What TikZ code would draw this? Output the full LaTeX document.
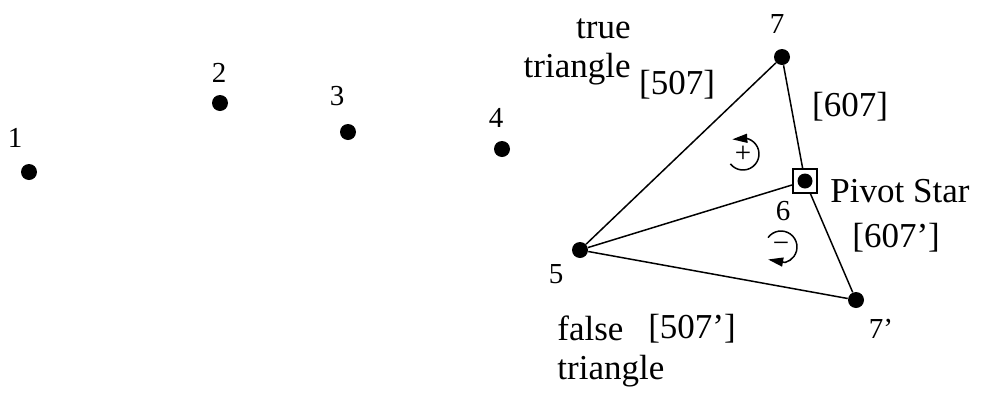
\documentclass[tikz,border=0pt]{standalone}
\usepackage{fontspec}
\setmainfont{Liberation Serif}
\usetikzlibrary{arrows.meta}

\begin{document}
\begin{tikzpicture}[
  x=0.5pt, y=-0.5pt,
  dot/.style={circle, fill=black, inner sep=0pt, minimum size=8pt},
  num/.style={font=\fontsize{14.5}{17}\selectfont, inner sep=0pt},
  lab/.style={font=\fontsize{17.5}{19.5}\selectfont, inner sep=0pt},
  edge/.style={line width=0.75pt},
  turn/.style={line width=0.75pt, -{Triangle[length=7.5pt,width=4.5pt]}}]
\useasboundingbox (0,0) rectangle (982,392);
\node[dot] (s1) at (29,172) {};
\node[dot] (s2) at (220,103) {};
\node[dot] (s3) at (348,132) {};
\node[dot] (s4) at (502,149) {};
\node[dot] (s5) at (580,250) {};
\node[dot] (s7) at (782,57) {};
\node[dot] (s7b) at (856,300) {};
\node[draw, line width=1pt, minimum size=12pt, inner sep=0pt] (pivot) at (805,181) {};
\node[dot, minimum size=7.5pt] (s6) at (805,181) {};
\node[num, anchor=base] (n1) at (15,147) {1};
\node[num, anchor=base] (n2) at (219,82) {2};
\node[num, anchor=base] (n3) at (337,105) {3};
\node[num, anchor=base] (n4) at (496,127) {4};
\node[num, anchor=base] (n5) at (556,283) {5};
\node[num, anchor=base] (n6) at (783,220) {6};
\node[num, anchor=base] (n7) at (777,33) {7};
\node[num, anchor=base] (n7b) at (881,338) {7’};
\draw[edge] (s5) -- (s7);
\draw[edge] (s7) -- (pivot);
\draw[edge] (s5) -- (pivot);
\draw[edge] (pivot) -- (s7b);
\draw[edge] (s5) -- (s7b);
\node[lab, anchor=base east, align=right] (truetri) at (631,77) {true\\triangle};
\node[lab, anchor=base west, align=left] (falsetri) at (557,379) {false\\triangle};
\node[lab, anchor=base] (e507) at (677,94) {[507]};
\node[lab, anchor=base] (e607) at (850,116) {[607]};
\node[lab, anchor=base west] (e607b) at (852,247) {[607’]};
\node[lab, anchor=base] (e507b) at (692,338) {[507’]};
\node[lab, anchor=base west] (star) at (830,202) {Pivot Star};
\node[num] (plus) at (743,154) {+};
\node[num] (minus) at (781,247) {−};
\draw[turn] ([shift={(142:16)}]plus.center) arc[start angle=142, end angle=-78, radius=16] -- ++(-14,1);
\draw[turn] ([shift={(-144:16)}]minus.center) arc[start angle=-144, end angle=75, radius=16] -- ++(-17,-3);
\end{tikzpicture}
\end{document}
